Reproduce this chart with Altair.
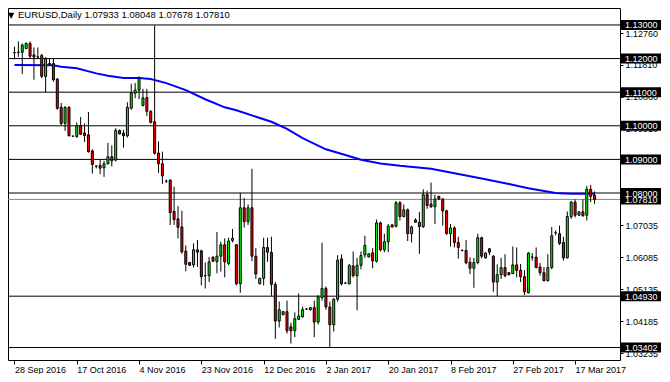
import altair as alt
import pandas as pd

# ---- candles (bar index 0 = 28 Sep 2016, daily incl. Sunday bars) ----
opens = [1.1217,1.1218,1.1219,1.1230,1.1245,1.1211,1.1205,1.1209,1.1147,1.1185,
         1.1185,1.1139,1.1055,1.1007,1.1055,1.0969,1.0968,1.1000,1.0978,1.0973,
         1.0925,1.0880,1.0882,1.0875,1.0887,1.0908,1.0898,1.0986,1.0978,1.0970,
         1.1052,1.1097,1.1106,1.1060,1.1084,1.1043,1.1012,1.0919,1.0887,1.0835,
         1.0838,1.0745,1.0723,1.0699,1.0627,1.0593,1.0586,1.0631,1.0628,1.0554,
         1.0554,1.0609,1.0596,1.0612,1.0646,1.0590,1.0659,1.0646,1.0530,1.0756,
         1.0715,1.0756,1.0612,1.0530,1.0546,1.0638,1.0623,1.0528,1.0419,1.0438,
         1.0447,1.0402,1.0390,1.0424,1.0432,1.0455,1.0453,1.0459,1.0416,1.0489,
         1.0516,1.0461,1.0408,1.0484,1.0604,1.0532,1.0530,1.0583,1.0554,1.0585,
         1.0616,1.0610,1.0622,1.0597,1.0711,1.0631,1.0655,1.0705,1.0701,1.0771,
         1.0730,1.0750,1.0679,1.0720,1.0713,1.0700,1.0795,1.0767,1.0759,1.0790,
         1.0782,1.0747,1.0679,1.0696,1.0653,1.0629,1.0629,1.0594,1.0576,1.0593,
         1.0667,1.0607,1.0634,1.0612,1.0535,1.0557,1.0578,1.0563,1.0560,1.0586,
         1.0570,1.0551,1.0503,1.0609,1.0609,1.0580,1.0563,1.0539,1.0578,1.0682,
         1.0679,1.0653,1.0607,1.0730,1.0773,1.0734,1.0744,1.0734,1.0811,1.07933]
highs = [1.1235,1.1251,1.1245,1.1248,1.1251,1.1233,1.1233,1.1214,1.1205,1.1200,
         1.1200,1.1142,1.1068,1.1058,1.1058,1.0971,1.1010,1.1026,1.1007,1.1041,
         1.0930,1.0882,1.0901,1.0896,1.0949,1.0942,1.0993,1.0989,1.0988,1.1070,
         1.1125,1.1127,1.1147,1.1110,1.1110,1.1046,1.1299,1.0954,1.0923,1.0840,
         1.0841,1.0819,1.0761,1.0747,1.0644,1.0595,1.0650,1.0660,1.0631,1.0593,
         1.0610,1.0612,1.0684,1.0655,1.0665,1.0667,1.0693,1.0648,1.0800,1.0785,
         1.0766,1.0872,1.0636,1.0548,1.0667,1.0667,1.0670,1.0535,1.0477,1.0449,
         1.0480,1.0414,1.0445,1.0501,1.0462,1.0458,1.0461,1.0480,1.0496,1.0652,
         1.0522,1.0477,1.0487,1.0615,1.0617,1.0534,1.0588,1.0626,1.0607,1.0626,
         1.0673,1.0621,1.0636,1.0721,1.0715,1.0679,1.0708,1.0707,1.0776,1.0776,
         1.0766,1.0754,1.0703,1.0725,1.0744,1.0811,1.0807,1.0831,1.0795,1.0792,
         1.0785,1.0750,1.0708,1.0701,1.0670,1.0632,1.0660,1.0609,1.0607,1.0679,
         1.0670,1.0624,1.0636,1.0615,1.0588,1.0607,1.0618,1.0565,1.0641,1.0638,
         1.0589,1.0570,1.0624,1.0621,1.0638,1.0592,1.0580,1.0618,1.0699,1.0689,
         1.0703,1.0670,1.0745,1.0776,1.0781,1.0746,1.0781,1.0821,1.0824,1.08048]
lows = [1.1198,1.1205,1.1154,1.1228,1.1200,1.1137,1.1200,1.1142,1.1100,1.1180,
        1.1131,1.1048,1.1002,1.0985,1.0969,1.0967,1.0964,1.0973,1.0952,1.0920,
        1.0858,1.0873,1.0856,1.0848,1.0885,1.0879,1.0894,1.0974,1.0935,1.0965,
        1.1048,1.1082,1.1079,1.1058,1.1029,1.1007,1.0914,1.0860,1.0827,1.0830,
        1.0705,1.0705,1.0665,1.0619,1.0567,1.0583,1.0578,1.0580,1.0525,1.0516,
        1.0535,1.0595,1.0561,1.0566,1.0549,1.0585,1.0653,1.0525,1.0503,1.0697,
        1.0705,1.0597,1.0544,1.0528,1.0525,1.0595,1.0494,1.0366,1.0400,1.0436,
        1.0382,1.0352,1.0371,1.0422,1.0429,1.0452,1.0450,1.0371,1.0409,1.0480,
        1.0453,1.0340,1.0388,1.0477,1.0525,1.0530,1.0528,1.0549,1.0451,1.0573,
        1.0607,1.0608,1.0576,1.0593,1.0626,1.0624,1.0624,1.0697,1.0698,1.0718,
        1.0727,1.0657,1.0653,1.0711,1.0619,1.0696,1.0753,1.0756,1.0708,1.0780,
        1.0703,1.0676,1.0641,1.0638,1.0605,1.0626,1.0588,1.0559,1.0518,1.0588,
        1.0605,1.0605,1.0615,1.0506,1.0493,1.0544,1.0549,1.0555,1.0559,1.0549,
        1.0535,1.0496,1.0501,1.0599,1.0576,1.0554,1.0537,1.0537,1.0573,1.0674,
        1.0645,1.0599,1.0605,1.0723,1.0727,1.0732,1.0730,1.0718,1.0773,1.07678]
closes = [1.1218,1.1219,1.1240,1.1245,1.1207,1.1205,1.1205,1.1147,1.1200,1.1183,
          1.1137,1.1052,1.1007,1.1055,1.0970,1.0969,1.1000,1.0975,1.0971,1.0923,
          1.0885,1.0880,1.0874,1.0887,1.0908,1.0896,1.0986,1.0976,1.0970,1.1055,
          1.1098,1.1106,1.1142,1.1083,1.1043,1.1010,1.0918,1.0887,1.0851,1.0835,
          1.0742,1.0721,1.0698,1.0625,1.0588,1.0585,1.0631,1.0624,1.0551,1.0554,
          1.0595,1.0597,1.0612,1.0646,1.0595,1.0657,1.0665,1.0530,1.0756,1.0715,
          1.0756,1.0612,1.0559,1.0546,1.0638,1.0624,1.0528,1.0419,1.0453,1.0447,
          1.0390,1.0390,1.0426,1.0434,1.0453,1.0455,1.0459,1.0416,1.0491,1.0516,
          1.0461,1.0408,1.0484,1.0600,1.0530,1.0532,1.0585,1.0554,1.0585,1.0614,
          1.0644,1.0619,1.0598,1.0711,1.0631,1.0655,1.0701,1.0699,1.0771,1.0730,
          1.0750,1.0679,1.0699,1.0713,1.0700,1.0795,1.0763,1.0759,1.0782,1.0782,
          1.0747,1.0679,1.0696,1.0653,1.0638,1.0629,1.0592,1.0576,1.0593,1.0667,
          1.0612,1.0621,1.0624,1.0535,1.0557,1.0578,1.0554,1.0557,1.0586,1.0570,
          1.0551,1.0506,1.0621,1.0609,1.0578,1.0563,1.0539,1.0578,1.0673,1.0682,
          1.0650,1.0607,1.0730,1.0773,1.0734,1.0744,1.0732,1.0811,1.0790,1.07810]

# ---- moving average ----
ma_idx = [0, 10, 12, 16, 21, 24, 28, 32, 35, 39, 44, 49, 54, 57, 66, 70, 74, 80,
          85, 89, 94, 99, 107, 113, 120, 127, 132, 139, 143, 149]
ma_val = [1.1181, 1.1180, 1.1176, 1.1171, 1.1156, 1.1149, 1.1142, 1.1142, 1.1139,
          1.1127, 1.1106, 1.1079, 1.1055, 1.1046, 1.1012, 1.0991, 1.0963, 1.0930,
          1.0913, 1.0899, 1.0888, 1.0881, 1.0872, 1.0859, 1.0843, 1.0827, 1.0814,
          1.0800, 1.0798, 1.0798]

# ---- horizontal lines and axis labels ----
line_levels = [1.13, 1.12, 1.11, 1.10, 1.09, 1.08, 1.0493, 1.03402]
bid_level = [1.0781]
box_levels = [1.13, 1.12, 1.11, 1.10, 1.09, 1.08, 1.0781, 1.0493, 1.03402]
box_labels = ["1.13000", "1.12000", "1.11000", "1.10000", "1.09000", "1.08000",
              "1.07810", "1.04930", "1.03402"]
price_ticks = [1.12760, 1.11810, 1.10860, 1.09910, 1.08960, 1.08010, 1.07035,
               1.06085, 1.05135, 1.04185, 1.03235]
date_ticks = [0, 16, 32, 48, 64, 80, 96, 112, 128, 144]
date_labels = ["28 Sep 2016", "17 Oct 2016", "4 Nov 2016", "23 Nov 2016",
               "12 Dec 2016", "2 Jan 2017", "20 Jan 2017", "8 Feb 2017",
               "27 Feb 2017", "17 Mar 2017"]
header = "EURUSD,Daily  1.07933 1.08048 1.07678 1.07810"

W, H = 612, 352
FONT = "Liberation Sans"

df = pd.DataFrame({"i": list(range(len(opens))), "o": opens, "h": highs,
                   "l": lows, "c": closes})
ma = pd.DataFrame({"i": ma_idx, "v": ma_val})
lv = pd.DataFrame({"y": line_levels})
bid = pd.DataFrame({"y": bid_level})
boxes = pd.DataFrame({"y": box_levels, "t": box_labels})

xs = alt.Scale(domain=[-0.38, 154.25], nice=False, zero=False)
ys = alt.Scale(domain=[1.0318, 1.13356], nice=False, zero=False)
label_arr = "[" + ",".join("'%s'" % s for s in date_labels) + "]"
xaxis = alt.Axis(values=date_ticks, labelExpr=label_arr + "[round(datum.value/16)]",
                 title=None, grid=False, domain=False, tickSize=4, tickColor="black",
                 labelAlign="left", labelBaseline="top", labelPadding=1,
                 labelFont=FONT, labelFontSize=9, labelColor="black",
                 labelFlush=False, labelOverlap=False)
yaxis = alt.Axis(orient="right", values=price_ticks, format=".5f", title=None,
                 grid=False, domain=False, tickSize=3, tickColor="black",
                 labelPadding=2, labelFont=FONT, labelFontSize=9,
                 labelColor="black", labelOverlap=False, labelFlush=False)


def X(f):
    return alt.X(f, type="quantitative", scale=xs, axis=xaxis)


def Y(f):
    return alt.Y(f, type="quantitative", scale=ys, axis=yaxis)


hlines = alt.Chart(lv).mark_rule(color="black", strokeWidth=1).encode(y=Y("y"))
bidline = alt.Chart(bid).mark_rule(color="#778899", strokeWidth=1).encode(y=Y("y"))

wicks = alt.Chart(df).mark_rule(color="black", strokeWidth=1).encode(
    x=X("i"), y=Y("l"), y2="h")
bodies = alt.Chart(df).mark_bar(size=2, stroke="black", strokeWidth=1).encode(
    x=X("i"), y=Y("o"), y2="c",
    color=alt.condition("datum.c > datum.o", alt.value("#00FF00"), alt.value("#FF0000")))

maline = alt.Chart(ma).mark_line(color="#0000FF", strokeWidth=2).encode(
    x=X("i"), y=Y("v"))

boxbg = alt.Chart(boxes).mark_bar(orient="horizontal", size=10, color="black").encode(
    x=alt.value(W + 1), x2=alt.value(W + 41), y=Y("y"))
boxtxt = alt.Chart(boxes).mark_text(align="left", baseline="middle", color="white",
                                    font=FONT, fontSize=9, dy=0.5).encode(
    x=alt.value(W + 5), y=Y("y"), text="t:N")

tri = alt.Chart(pd.DataFrame({"t": ["\u25BC"]})).mark_text(
    align="left", baseline="alphabetic", font="DejaVu Sans", fontSize=8,
    color="black").encode(x=alt.value(0), y=alt.value(10), text="t:N")
head = alt.Chart(pd.DataFrame({"t": [header]})).mark_text(
    align="left", baseline="alphabetic", font=FONT, fontSize=9.5,
    color="black").encode(x=alt.value(10), y=alt.value(10), text="t:N")

chart = alt.layer(hlines, bidline, maline, wicks, bodies, boxbg, boxtxt, tri, head).properties(
    width=W, height=H,
    autosize=alt.AutoSizeParams(type="none"),
    padding={"left": 0, "top": 0, "right": 42, "bottom": 14},
    background="white",
).configure_view(stroke="black", strokeWidth=1)

chart.save("out.html", embed_options={"renderer": "svg", "actions": False})
